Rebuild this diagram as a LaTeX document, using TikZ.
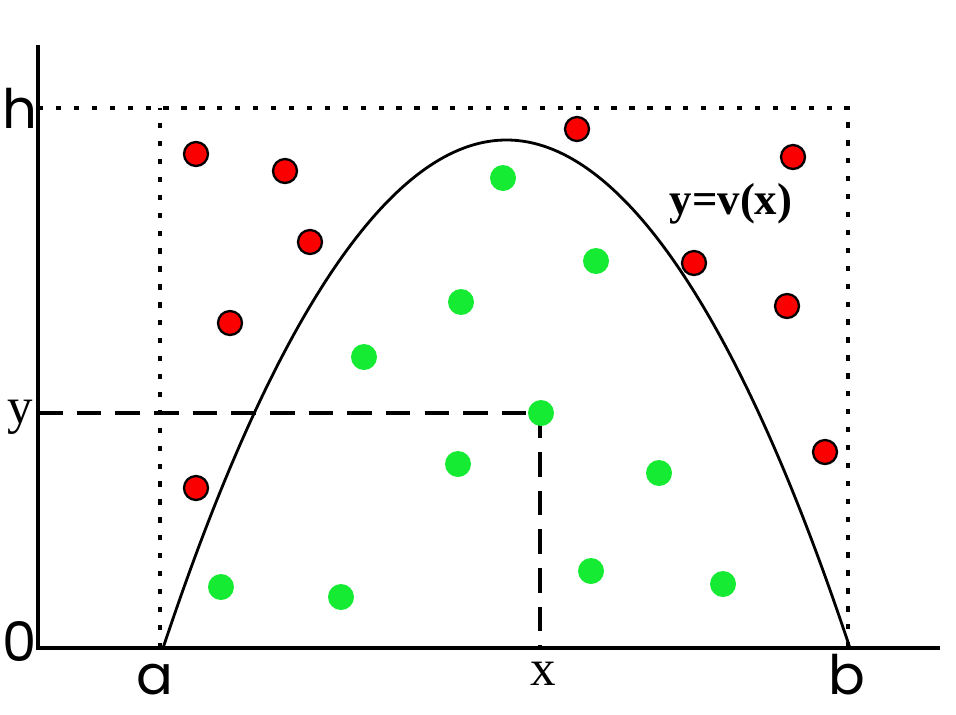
\documentclass[tikz,border=0pt]{standalone}
\usepackage{fontspec}
\setmainfont{Liberation Serif}
\newfontfamily\axisfont{Poppins}
\usetikzlibrary{positioning}
\definecolor{outred}{RGB}{250,0,0}
\definecolor{ingreen}{RGB}{20,235,50}

\begin{document}
\begin{tikzpicture}[x=0.02cm,y=-0.02cm,semithick]
		\tikzstyle{axis}=[line width=1.9pt]
		\tikzstyle{frame}=[line width=2.6pt,dash pattern=on 3pt off 7.2pt]
		\tikzstyle{guide}=[line width=2.2pt,dash pattern=on 14pt off 8pt]
		\tikzstyle{curve}=[line width=1.6pt]
		\tikzstyle{miss}=[fill=outred,draw=black,line width=1.3pt]
		\tikzstyle{hit}=[fill=ingreen]
		\tikzstyle{sanslabel}=[font=\axisfont\fontsize{31}{31}\selectfont,inner sep=0pt,anchor=base]
		\tikzstyle{serlabel}=[font=\fontsize{29}{29}\selectfont,inner sep=0pt,anchor=base]
		
		\useasboundingbox (0,0) rectangle (956,714);
		
		% axes
		\coordinate (O) at (38,648);
		\coordinate (Ytop) at (38,45);
		\coordinate (Xend) at (940,648);
		\draw[axis] (Ytop) -- (O) -- (Xend);
		
		% box [a,b] x [0,h]
		\coordinate (A) at (160,648);
		\coordinate (B) at (848,648);
		\coordinate (H) at (38,108);
		\draw[frame] (H) -- (848,108) -- (B);
		\draw[frame] (A) -- (160,108);
		
		% sample point (x,y)
		\coordinate (Y) at (38,413);
		\coordinate (P) at (540,413);
		\coordinate (X) at (540,648);
		\draw[guide] (Y) -- (P) -- (X);
		
		% y=v(x)
		\coordinate (Ca) at (163,648);
		\coordinate (Top) at (506.5,140);
		\coordinate (Cb) at (850,648);
		\draw[curve] (Ca) parabola bend (Top) (Cb);
		
		% rejected points
		\foreach \px/\py in {196/154, 285/171, 310/242, 230/323, 577/129, 793/157, 694/263, 787/306, 825/452, 196/488}
			\fill[miss] (\px,\py) circle (0.24cm);
		
		% accepted points
		\foreach \px/\py in {503/178, 596/261, 461/302, 364/357, 541/413, 458/464, 659/473, 221/587, 341/597, 591/571, 723/584}
			\fill[hit] (\px,\py) circle (0.26cm);
		
		% labels
		\node[sanslabel] (hlab) at (20,128) {h};
		\node[sanslabel] (zlab) at (20,661) {0};
		\node[serlabel] (ylab) at (20,423) {y};
		\node[sanslabel] (alab) at (155,694) {a};
		\node[serlabel] (xlab) at (543,685) {x};
		\node[sanslabel] (blab) at (847,694) {b};
		\node[font=\bfseries\fontsize{25.5}{25.5}\selectfont,inner sep=0pt] (vlab) at (731,204) {y=v(x)};
\end{tikzpicture}
\end{document}
